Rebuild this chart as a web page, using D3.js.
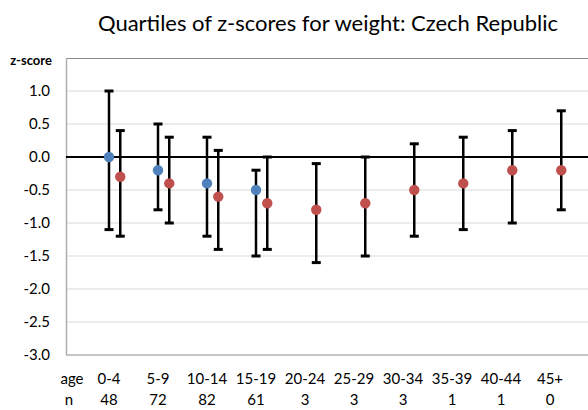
<!DOCTYPE html>
<html>
<head>
<meta charset="utf-8">
<script src="https://cdn.jsdelivr.net/npm/d3@7"></script>
<style>
  html, body { margin: 0; padding: 0; background: #fff; }
  svg { display: block; font-family: Lato, "Open Sans", sans-serif; }
</style>
</head>
<body>
<svg id="chart" width="588" height="410"></svg>
<script>
// Age groups and sample sizes
const ageGroups = ["0-4", "5-9", "10-14", "15-19", "20-24", "25-29", "30-34", "35-39", "40-44", "45+"];
const counts = ["48", "72", "82", "61", "3", "3", "3", "1", "1", "0"];

// First series (blue): median and quartiles, only the younger groups
const blueMedian = [0.0, -0.2, -0.4, -0.5];
const blueUpper  = [1.0, 0.5, 0.3, -0.2];
const blueLower  = [-1.1, -0.8, -1.2, -1.5];

// Second series (red): median and quartiles for every group
const redMedian = [-0.3, -0.4, -0.6, -0.7, -0.8, -0.7, -0.5, -0.4, -0.2, -0.2];
const redUpper  = [0.4, 0.3, 0.1, 0.0, -0.1, 0.0, 0.2, 0.3, 0.4, 0.7];
const redLower  = [-1.2, -1.0, -1.4, -1.4, -1.6, -1.5, -1.2, -1.1, -1.0, -0.8];

const yTicks = [1.0, 0.5, 0.0, -0.5, -1.0, -1.5, -2.0, -2.5, -3.0];

const svg = d3.select("#chart");
const plot = { left: 66, right: 592, top: 58, bottom: 355 };

const y = d3.scaleLinear().domain([-3, 1.5]).range([plot.bottom, plot.top]);
const x = d3.scaleLinear().domain([0, 9]).range([109, 550]);
const redOffset = 0.23;

// Title
svg.append("text")
  .attr("x", 328).attr("y", 31)
  .attr("text-anchor", "middle")
  .attr("font-size", 22)
  .attr("fill", "#000")
  .text("Quartiles of z-scores for weight: Czech Republic");

// Gridlines
svg.append("g").selectAll("line")
  .data(yTicks.filter(d => d !== 0 && d !== -3))
  .join("line")
  .attr("x1", plot.left).attr("x2", plot.right)
  .attr("y1", d => y(d)).attr("y2", d => y(d))
  .attr("stroke", "#d9d9d9").attr("stroke-width", 1);

// Plot frame
svg.append("line")
  .attr("x1", plot.left).attr("x2", plot.right)
  .attr("y1", plot.top + 0.5).attr("y2", plot.top + 0.5)
  .attr("stroke", "#8c8c8c").attr("stroke-width", 1);
svg.append("line")
  .attr("x1", plot.left).attr("x2", plot.right)
  .attr("y1", y(-3)).attr("y2", y(-3))
  .attr("stroke", "#8c8c8c").attr("stroke-width", 1);
svg.append("line")
  .attr("x1", plot.left + 0.5).attr("x2", plot.left + 0.5)
  .attr("y1", plot.top).attr("y2", plot.bottom)
  .attr("stroke", "#b0b0b0").attr("stroke-width", 1.5);

// Zero line
svg.append("line")
  .attr("x1", plot.left).attr("x2", plot.right)
  .attr("y1", y(0)).attr("y2", y(0))
  .attr("stroke", "#000").attr("stroke-width", 2);

// Y axis labels
const yAxis = d3.axisLeft(y).tickValues(yTicks).tickFormat(d3.format(".1f")).tickSize(0).tickPadding(16);
const yG = svg.append("g").attr("transform", `translate(${plot.left},0)`).call(yAxis);
yG.select(".domain").remove();
yG.selectAll("text").attr("font-size", 15).attr("font-family", "Lato, 'Open Sans', sans-serif").attr("fill", "#000")
  .text(d => d3.format(".1f")(d).replace("−", "-"));

svg.append("text")
  .attr("x", 31).attr("y", 65)
  .attr("text-anchor", "middle")
  .attr("font-size", 13).attr("font-weight", "bold")
  .text("z-score");

// Category and count labels
svg.append("text").attr("x", 72).attr("y", 384).attr("text-anchor", "middle").attr("font-size", 15).text("age");
svg.append("text").attr("x", 69).attr("y", 405).attr("text-anchor", "middle").attr("font-size", 15).text("n");
svg.append("g").selectAll("text").data(ageGroups).join("text")
  .attr("x", (d, i) => x(i)).attr("y", 384)
  .attr("text-anchor", "middle").attr("font-size", 15).text(d => d);
svg.append("g").selectAll("text").data(counts).join("text")
  .attr("x", (d, i) => x(i)).attr("y", 405)
  .attr("text-anchor", "middle").attr("font-size", 15).text(d => d);

// Error bars with caps, then points
function drawSeries(medians, uppers, lowers, offset, color) {
  const rows = medians.map((m, i) => ({ i, m, hi: uppers[i], lo: lowers[i] }));
  const g = svg.append("g");
  g.selectAll(".bar").data(rows).join("line")
    .attr("x1", d => x(d.i + offset)).attr("x2", d => x(d.i + offset))
    .attr("y1", d => y(d.hi)).attr("y2", d => y(d.lo))
    .attr("stroke", "#000").attr("stroke-width", 2.5);
  ["hi", "lo"].forEach(k => {
    g.selectAll(".cap-" + k).data(rows).join("line")
      .attr("x1", d => x(d.i + offset) - 4.5).attr("x2", d => x(d.i + offset) + 4.5)
      .attr("y1", d => y(d[k])).attr("y2", d => y(d[k]))
      .attr("stroke", "#000").attr("stroke-width", 3);
  });
  g.selectAll("circle").data(rows).join("circle")
    .attr("cx", d => x(d.i + offset)).attr("cy", d => y(d.m))
    .attr("r", 5.2).attr("fill", color);
}
drawSeries(blueMedian, blueUpper, blueLower, 0, "#4f81bd");
drawSeries(redMedian, redUpper, redLower, redOffset, "#c0504d");
</script>
</body>
</html>
